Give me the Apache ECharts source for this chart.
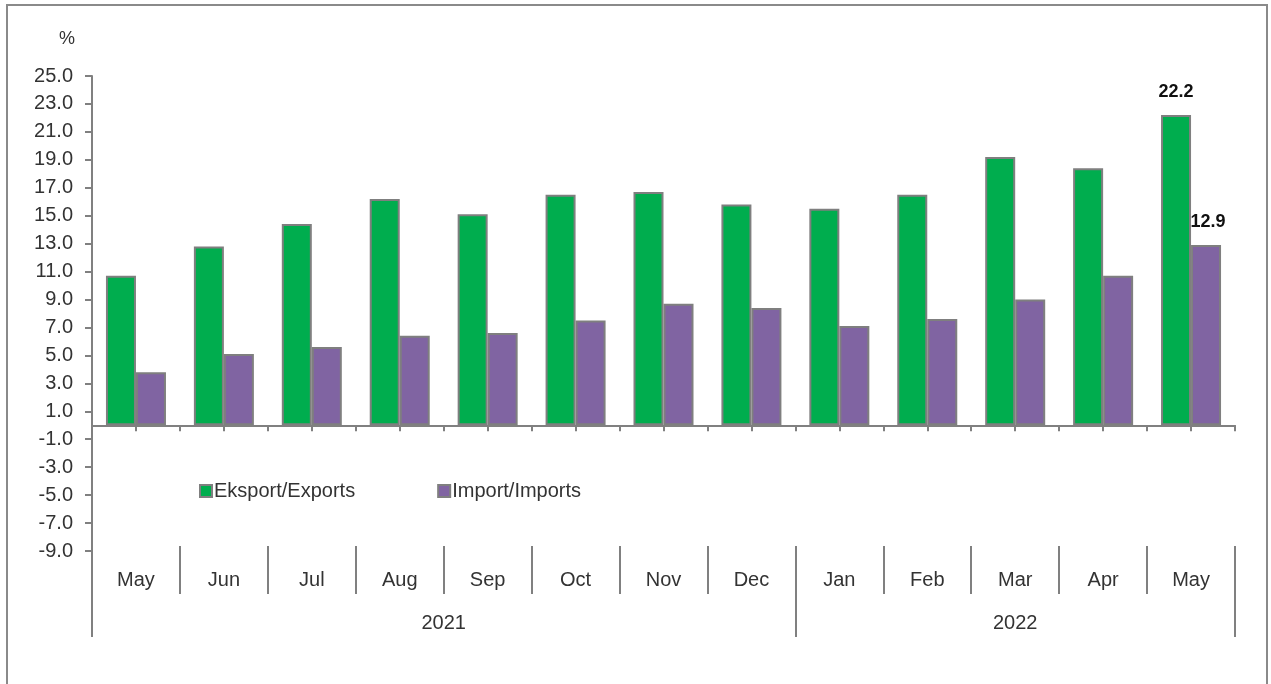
<!DOCTYPE html>
<html>
<head>
<meta charset="utf-8">
<script src="https://cdn.jsdelivr.net/npm/echarts@6/dist/echarts.min.js"></script>
<style>
  html, body { margin: 0; padding: 0; background: #fff; }
  #chart { width: 1271px; height: 684px; }
</style>
</head>
<body>
<div id="chart"></div>
<script>
const months = ['May', 'Jun', 'Jul', 'Aug', 'Sep', 'Oct', 'Nov', 'Dec', 'Jan', 'Feb', 'Mar', 'Apr', 'May'];
const years = ['2021', '2022'];
const yearSpans = [8, 5];
const exportsData = [10.7, 12.8, 14.4, 16.2, 15.1, 16.5, 16.7, 15.8, 15.5, 16.5, 19.2, 18.4, 22.2];
const importsData = [3.8, 5.1, 5.6, 6.4, 6.6, 7.5, 8.7, 8.4, 7.1, 7.6, 9.0, 10.7, 12.9];
const seriesNames = ['Eksport/Exports', 'Import/Imports'];
const unitLabel = '%';

const FONT = '"Liberation Sans", Arial, sans-serif';
const TXT = '#333333';
const AX = '#808080';

// year boundaries and centres derived from spans
const yearBounds = [0];
yearSpans.forEach(s => yearBounds.push(yearBounds[yearBounds.length - 1] + s));
const yearCenters = yearSpans.map((s, i) => yearBounds[i] + s / 2);

const halfTicks = Array(months.length * 2).fill('');

function withLastLabel(arr) {
  return arr.map((v, i) => i === arr.length - 1
    ? { value: v, label: { show: true } }
    : v);
}

const chart = echarts.init(document.getElementById('chart'), null, { renderer: 'canvas' });
chart.setOption({
  animation: false,
  backgroundColor: '#fff',
  graphic: [{
    type: 'rect',
    shape: { x: 7, y: 5, width: 1260, height: 700 },
    style: { fill: 'none', stroke: '#8a8a8a', lineWidth: 2 },
    silent: true
  }],
  title: {
    text: unitLabel,
    left: 54, top: 25,
    textStyle: { fontFamily: FONT, fontSize: 18, fontWeight: 'normal', color: TXT }
  },
  legend: {
    data: seriesNames,
    left: 194, top: 476,
    icon: 'rect',
    itemWidth: 12, itemHeight: 12, itemGap: 82,
    textStyle: { fontFamily: FONT, fontSize: 20, color: TXT, padding: [0, 0, 0, -3] }
  },
  grid: { left: 92, right: 36, top: 76, bottom: 133, containLabel: false },
  xAxis: [
    {
      type: 'category',
      data: months,
      position: 'bottom',
      offset: -5,
      axisLine: { show: false, onZero: false },
      axisTick: { show: true, length: 48, lineStyle: { color: AX, width: 2 } },
      axisLabel: { margin: 24, fontFamily: FONT, fontSize: 20, color: TXT, interval: 0 },
      splitLine: { show: false }
    },
    {
      type: 'category',
      data: halfTicks,
      position: 'bottom',
      axisLine: { show: true, onZero: true, onZeroAxisIndex: 0, lineStyle: { color: AX, width: 2 } },
      axisTick: { show: true, length: 6, interval: 0, lineStyle: { color: AX, width: 2 } },
      axisLabel: { show: false },
      splitLine: { show: false }
    },
    {
      type: 'value',
      min: 0, max: months.length,
      position: 'bottom',
      offset: -5,
      axisLine: { show: false, onZero: false },
      axisTick: { show: true, length: 91, customValues: yearBounds, lineStyle: { color: AX, width: 2 } },
      axisLabel: {
        show: true, margin: 67, customValues: yearCenters,
        fontFamily: FONT, fontSize: 20, color: TXT,
        formatter: v => { const i = yearCenters.findIndex(c => Math.abs(c - v) < 1e-6); return i >= 0 ? years[i] : ''; }
      },
      splitLine: { show: false }
    }
  ],
  yAxis: {
    type: 'value',
    min: -9, max: 25, interval: 2,
    axisLine: { show: true, onZero: false, lineStyle: { color: AX, width: 2 } },
    axisTick: { show: true, length: 7, lineStyle: { color: AX, width: 2 } },
    axisLabel: { margin: 19, fontFamily: FONT, fontSize: 20, color: TXT, formatter: v => v.toFixed(1) },
    splitLine: { show: false }
  },
  series: [
    {
      name: seriesNames[0],
      type: 'bar',
      xAxisIndex: 0,
      data: withLastLabel(exportsData),
      barWidth: 30,
      barGap: '0%',
      itemStyle: { color: '#00AD4E', borderColor: '#7f7f7f', borderWidth: 2 },
      label: { show: false, position: 'top', distance: 14, fontFamily: FONT, fontSize: 18, fontWeight: 'bold', color: '#111', formatter: p => p.value.toFixed(1) }
    },
    {
      name: seriesNames[1],
      type: 'bar',
      xAxisIndex: 0,
      data: withLastLabel(importsData),
      barWidth: 30,
      barGap: '0%',
      itemStyle: { color: '#8064A2', borderColor: '#7f7f7f', borderWidth: 2 },
      label: { show: false, position: 'top', distance: 14, offset: [2, 0], fontFamily: FONT, fontSize: 18, fontWeight: 'bold', color: '#111', formatter: p => p.value.toFixed(1) }
    }
  ]
});
</script>
</body>
</html>
